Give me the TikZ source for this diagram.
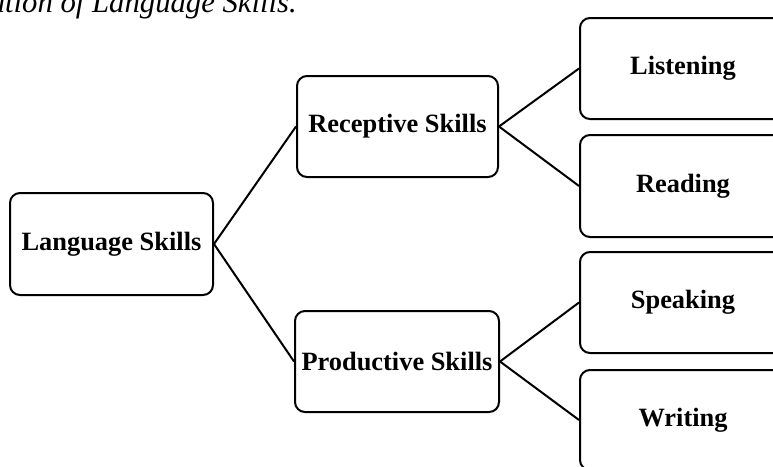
\documentclass[tikz,border=0pt]{standalone}
\usepackage{fontspec}
\setmainfont{Liberation Serif}
\begin{document}
\begin{tikzpicture}[x=1pt,y=-1pt,
  skillbox/.style={draw=black, line width=2pt, rounded corners=10pt, fill=white,
    inner sep=0pt, font=\fontsize{26.4}{30}\selectfont\bfseries},
  link/.style={draw=black, line width=2pt}]
\useasboundingbox (0,0) rectangle (773,466);
\clip (0,0) rectangle (773,466);
\node[anchor=base east, inner sep=0pt, font=\fontsize{30.7}{34}\selectfont\itshape] (cap) at (297,12) {Classification of Language Skills.};
\node[skillbox, minimum width=203pt, minimum height=102pt] (lang) at (111.5,244) {Language Skills};
\node[skillbox, minimum width=201pt, minimum height=101pt] (rec) at (397.5,126.5) {Receptive Skills};
\node[skillbox, minimum width=204pt, minimum height=101pt] (prod) at (397,361.5) {Productive Skills};
\node[skillbox, minimum width=206pt, minimum height=101pt] (listen) at (683,68.5) {Listening};
\node[skillbox, minimum width=206pt, minimum height=102pt] (read) at (683,186) {Reading};
\node[skillbox, minimum width=206pt, minimum height=101pt] (speak) at (683,302.5) {Speaking};
\node[skillbox, minimum width=206pt, minimum height=100pt] (write) at (683,420) {Writing};
\draw[link] (lang.east) -- (rec.west);
\draw[link] (lang.east) -- (prod.west);
\draw[link] (rec.east) -- (listen.west);
\draw[link] (rec.east) -- (read.west);
\draw[link] (prod.east) -- (speak.west);
\draw[link] (prod.east) -- (write.west);
\end{tikzpicture}
\end{document}
